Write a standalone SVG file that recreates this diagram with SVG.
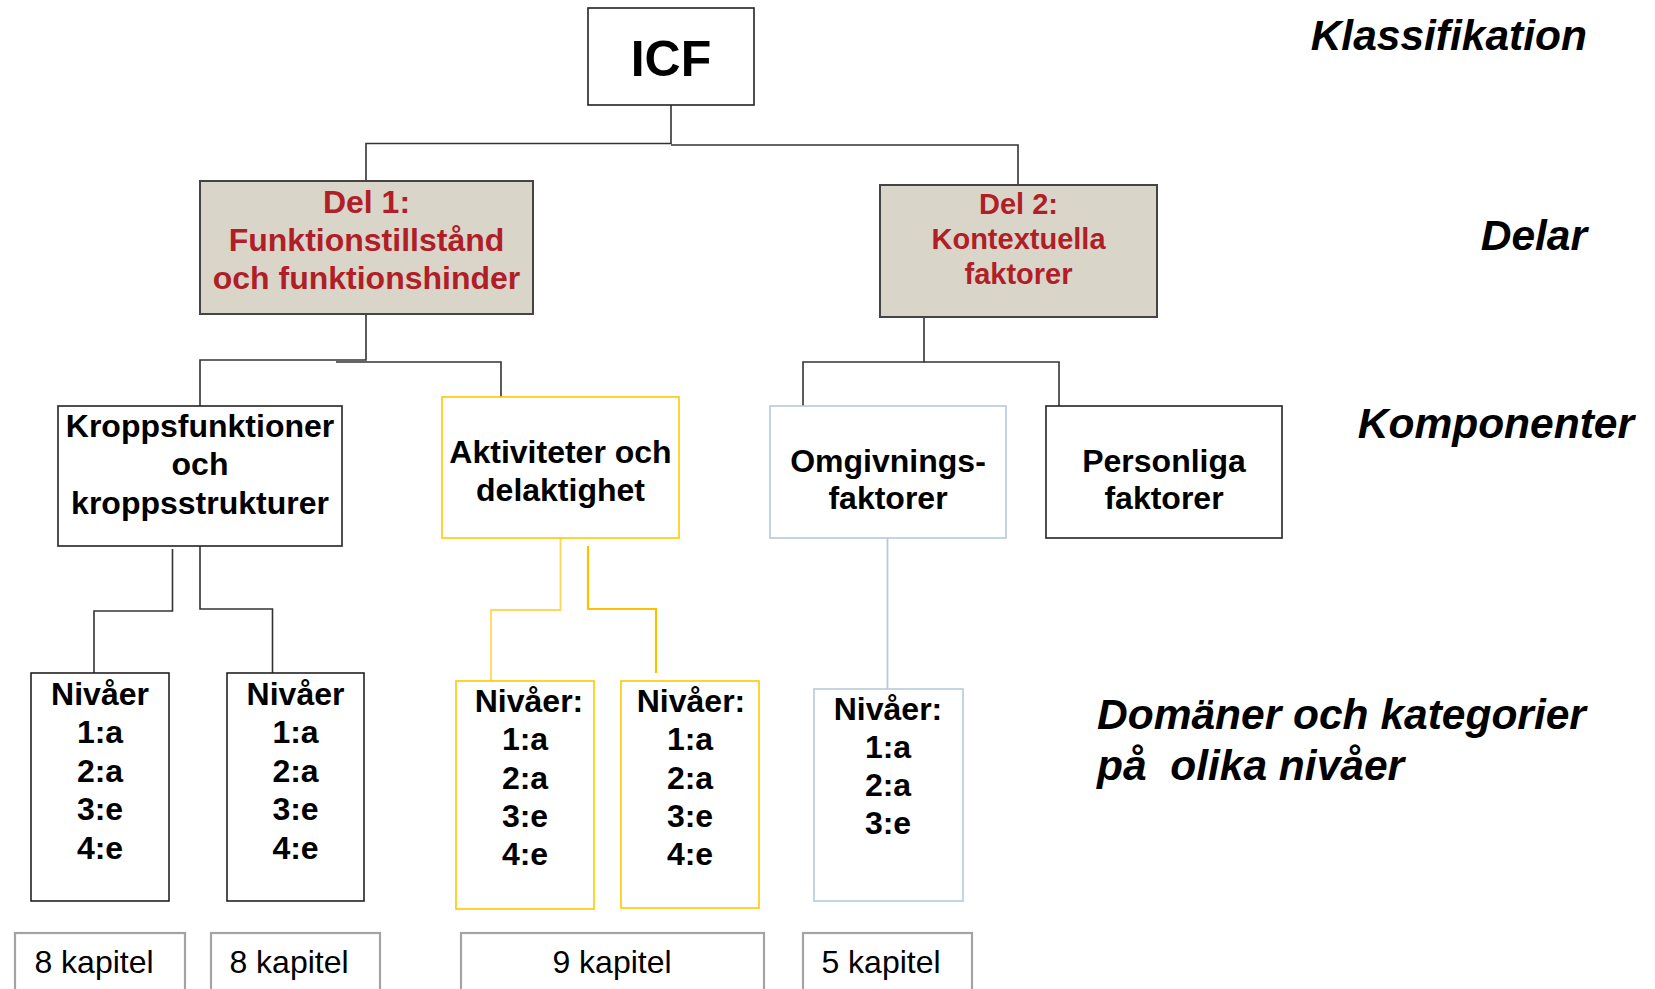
<svg xmlns="http://www.w3.org/2000/svg" width="1655" height="989" viewBox="0 0 1655 989">
<style>
text{font-family:"Liberation Sans",Arial,sans-serif;text-anchor:middle}
.b{font-weight:bold;font-size:32px;fill:#000}
.red{font-weight:bold;fill:#B01E28}
.lbl{font-weight:bold;font-style:italic;font-size:42.5px;fill:#000}
.kap{font-size:32px;fill:#000}
.box{fill:#fff;stroke:#222;stroke-width:1.6}
.del{fill:#D9D5C9;stroke:#444;stroke-width:2}
.yel{fill:#fff;stroke:#FFC800;stroke-width:1.6}
.blu{fill:#fff;stroke:#B8CAD8;stroke-width:1.6}
.kbox{fill:#fff;stroke:#A3A3A3;stroke-width:2.2}
.c{fill:none;stroke:#333;stroke-width:1.6}
</style>
<rect width="1655" height="989" fill="#fff"/>
<g id="connectors">
<path class="c" d="M671 105 V143.5 H366 V181"/>
<path class="c" d="M671 145 H1018 V185"/>
<path class="c" d="M366 314 V360 H200 V406"/>
<path class="c" d="M336 362 H501 V397"/>
<path class="c" d="M924 317 V362 H803 V406"/>
<path class="c" d="M924 362 H1059 V406"/>
<path class="c" d="M172.5 549 V611 H94 V673"/>
<path class="c" d="M200 546 V609 H272.5 V673"/>
<path d="M560.5 538 V610 H491 V681" fill="none" stroke="#FFD75A" stroke-width="1.8"/>
<path d="M588 546 V609 H656 V673" fill="none" stroke="#FFC000" stroke-width="2.2"/>
<path d="M887.5 538 V689" fill="none" stroke="#B8CAD8" stroke-width="1.8"/>
</g>
<g id="icf">
<rect class="box" x="588" y="8" width="166" height="97"/>
<text x="671" y="76" style="font-weight:bold;font-size:50px">ICF</text>
</g>
<g id="del1">
<rect class="del" x="200" y="181" width="333" height="133"/>
<text class="red" x="366.5" y="212.5" font-size="32">Del 1:</text>
<text class="red" x="366.5" y="251" font-size="32">Funktionstillstånd</text>
<text class="red" x="366.5" y="288.5" font-size="32">och funktionshinder</text>
</g>
<g id="del2">
<rect class="del" x="880" y="185" width="277" height="132"/>
<text class="red" x="1018.5" y="213.5" font-size="29">Del 2:</text>
<text class="red" x="1018.5" y="249" font-size="29">Kontextuella</text>
<text class="red" x="1018.5" y="284" font-size="29">faktorer</text>
</g>
<g id="kropp">
<rect class="box" x="58" y="406" width="284" height="140"/>
<text class="b" x="200" y="436.5">Kroppsfunktioner</text>
<text class="b" x="200" y="475">och</text>
<text class="b" x="200" y="513.5">kroppsstrukturer</text>
</g>
<g id="aktiv">
<rect class="yel" x="442" y="397" width="237" height="141"/>
<text class="b" x="560.5" y="462.5">Aktiviteter och</text>
<text class="b" x="560.5" y="501">delaktighet</text>
</g>
<g id="omgiv">
<rect class="blu" x="770" y="406" width="236" height="132"/>
<text class="b" x="888" y="472">Omgivnings-</text>
<text class="b" x="888" y="509">faktorer</text>
</g>
<g id="person">
<rect class="box" x="1046" y="406" width="236" height="132"/>
<text class="b" x="1164" y="472">Personliga</text>
<text class="b" x="1164" y="509">faktorer</text>
</g>
<g id="niv1">
<rect class="box" x="31" y="673" width="138" height="228"/>
<text class="b" x="100" y="705">Nivåer</text>
<text class="b" x="100" y="743">1:a</text>
<text class="b" x="100" y="781.5">2:a</text>
<text class="b" x="100" y="820">3:e</text>
<text class="b" x="100" y="858.5">4:e</text>
</g>
<g id="niv2">
<rect class="box" x="227" y="673" width="137" height="228"/>
<text class="b" x="295.5" y="705">Nivåer</text>
<text class="b" x="295.5" y="743">1:a</text>
<text class="b" x="295.5" y="781.5">2:a</text>
<text class="b" x="295.5" y="820">3:e</text>
<text class="b" x="295.5" y="858.5">4:e</text>
</g>
<g id="niv3">
<rect class="yel" x="456" y="681" width="138" height="228"/>
<text class="b" x="529" y="711.5">Nivåer:</text>
<text class="b" x="525" y="750">1:a</text>
<text class="b" x="525" y="788.5">2:a</text>
<text class="b" x="525" y="826.5">3:e</text>
<text class="b" x="525" y="864.5">4:e</text>
</g>
<g id="niv4">
<rect class="yel" x="621" y="681" width="138" height="227"/>
<text class="b" x="691" y="711.5">Nivåer:</text>
<text class="b" x="690" y="750">1:a</text>
<text class="b" x="690" y="788.5">2:a</text>
<text class="b" x="690" y="826.5">3:e</text>
<text class="b" x="690" y="864.5">4:e</text>
</g>
<g id="niv5">
<rect class="blu" x="814" y="689" width="149" height="212"/>
<text class="b" x="888" y="719.5">Nivåer:</text>
<text class="b" x="888" y="758">1:a</text>
<text class="b" x="888" y="796">2:a</text>
<text class="b" x="888" y="834">3:e</text>
</g>
<g id="kap1">
<rect class="kbox" x="15" y="933" width="170" height="80"/>
<text class="kap" x="94" y="973">8 kapitel</text>
</g>
<g id="kap2">
<rect class="kbox" x="211" y="933" width="169" height="80"/>
<text class="kap" x="289" y="973">8 kapitel</text>
</g>
<g id="kap3">
<rect class="kbox" x="461" y="933" width="303" height="80"/>
<text class="kap" x="612" y="973">9 kapitel</text>
</g>
<g id="kap4">
<rect class="kbox" x="803" y="933" width="169" height="80"/>
<text class="kap" x="881" y="973">5 kapitel</text>
</g>
<g id="labels">
<text class="lbl" x="1587" y="50" style="text-anchor:end">Klassifikation</text>
<text class="lbl" x="1587" y="250" style="text-anchor:end">Delar</text>
<text class="lbl" x="1634" y="437.5" style="text-anchor:end">Komponenter</text>
<text class="lbl" x="1097" y="729" style="text-anchor:start">Domäner och kategorier</text>
<text class="lbl" x="1097" y="780" style="text-anchor:start" xml:space="preserve">på  olika nivåer</text>
</g>
</svg>
